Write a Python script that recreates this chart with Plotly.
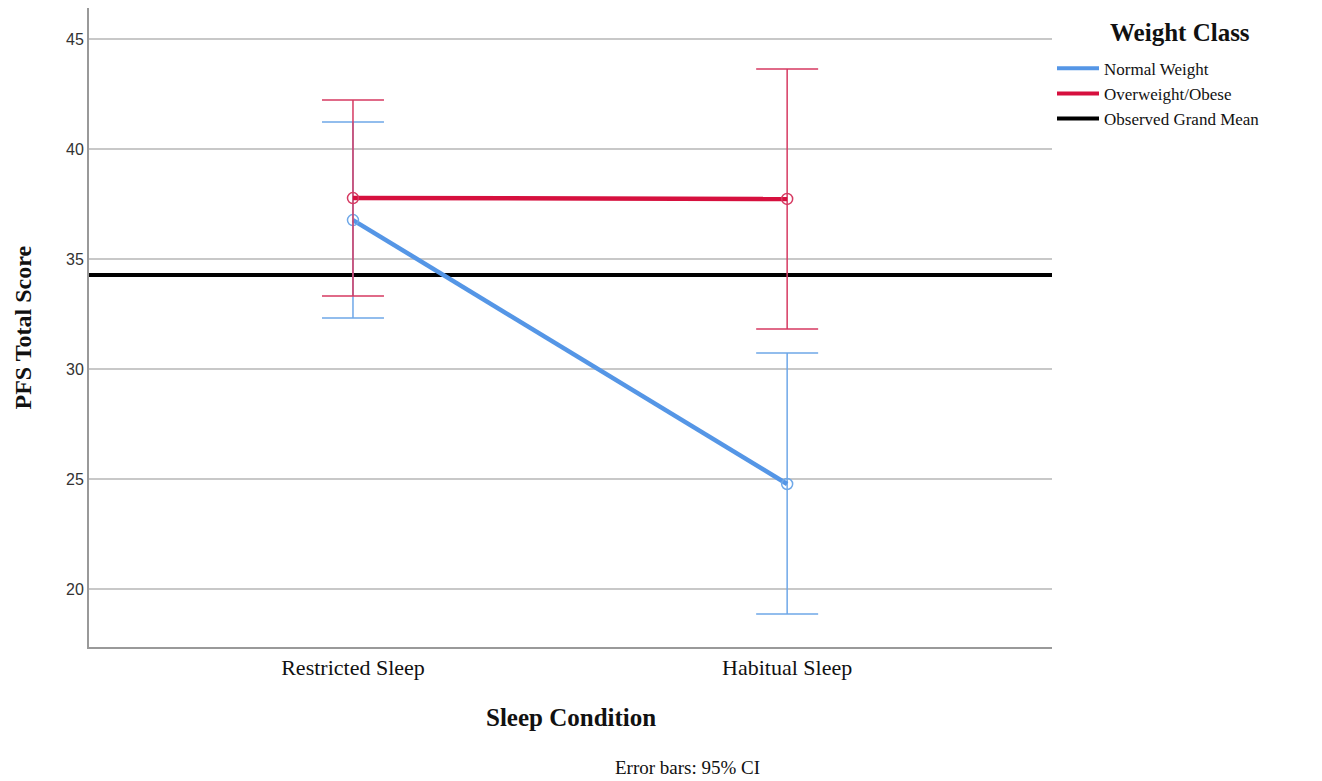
import plotly.graph_objects as go

categories = ["Restricted Sleep", "Habitual Sleep"]
normal_mean = [36.77, 24.77]
normal_upper = [41.23, 30.73]
normal_lower = [32.32, 18.86]
over_mean = [37.77, 37.73]
over_upper = [42.23, 43.64]
over_lower = [33.32, 31.82]
grand_mean = 34.27
y_ticks = [20, 25, 30, 35, 40, 45]

xpos = list(range(len(categories)))
xr = [-0.608, 1.61]

SERIF = "Liberation Serif"
SANS = "Liberation Sans"

fig = go.Figure()

fig.add_trace(go.Scatter(
    x=xr, y=[grand_mean, grand_mean], mode="lines",
    line=dict(color="#000000", width=4),
    name="Observed Grand Mean", showlegend=False, hoverinfo="skip",
))

def add_series(name, mean, upper, lower, color, ecolor):
    fig.add_trace(go.Scatter(
        x=xpos, y=mean, mode="lines+markers", name=name, showlegend=False,
        line=dict(color=color, width=4.5),
        marker=dict(symbol="circle-open", size=11, color=ecolor, line=dict(width=1.5, color=ecolor)),
        error_y=dict(type="data", symmetric=False,
                     array=[u - m for u, m in zip(upper, mean)],
                     arrayminus=[m - l for m, l in zip(mean, lower)],
                     color=ecolor, thickness=1.5, width=31),
    ))

add_series("Normal Weight", normal_mean, normal_upper, normal_lower, "#5596E6", "#6FA8E8")
add_series("Overweight/Obese", over_mean, over_upper, over_lower, "#D6103E", "#D63A62")

# legend entries (lines only, as in the reference)
for name, color in [("Normal Weight", "#5596E6"), ("Overweight/Obese", "#D6103E"),
                    ("Observed Grand Mean", "#000000")]:
    fig.add_trace(go.Scatter(x=[None], y=[None], mode="lines", name=name,
                             line=dict(color=color, width=4)))

fig.update_layout(
    width=1322, height=781,
    margin=dict(l=81, r=278, t=0, b=142),
    plot_bgcolor="white", paper_bgcolor="white",
    showlegend=True,
    legend=dict(
        x=1.0, xanchor="left", y=0.933, yanchor="top",
        font=dict(family=SERIF, size=17, color="#111"),
        tracegroupgap=0, itemwidth=42, bgcolor="rgba(0,0,0,0)",
    ),
    xaxis=dict(
        range=xr, tickmode="array", tickvals=xpos, ticktext=categories,
        showgrid=False, zeroline=False, showline=True, linecolor="#999", linewidth=2,
        ticks="", tickfont=dict(family=SERIF, size=22, color="#111"),
    ),
    yaxis=dict(
        range=[17.36, 46.41], tickmode="array", tickvals=y_ticks,
        showgrid=True, gridcolor="#C8C8C8", gridwidth=1.5, zeroline=False,
        showline=True, linecolor="#999", linewidth=2,
        ticks="", tickfont=dict(family=SANS, size=16, color="#333"),
    ),
    annotations=[
        dict(text="<b>Weight Class</b>", xref="paper", yref="paper", x=1.133, y=0.961,
             xanchor="center", yanchor="middle", showarrow=False,
             font=dict(family=SERIF, size=25, color="#111")),
        dict(text="<b>PFS Total Score</b>", xref="paper", yref="paper", x=0, y=0.5,
             xanchor="center", yanchor="middle",
             xshift=-67, textangle=-90, showarrow=False,
             font=dict(family=SERIF, size=24, color="#111")),
        dict(text="<b>Sleep Condition</b>", xref="paper", yref="paper", x=0.5, y=0,
             xanchor="center", yanchor="middle",
             yshift=-70, showarrow=False, font=dict(family=SERIF, size=25, color="#111")),
        dict(text="Error bars: 95% CI", xref="paper", yref="paper", x=0.622, y=0,
             xanchor="center", yanchor="middle",
             yshift=-120, showarrow=False, font=dict(family=SERIF, size=19, color="#111")),
    ],
)

fig.write_html("out.html")
